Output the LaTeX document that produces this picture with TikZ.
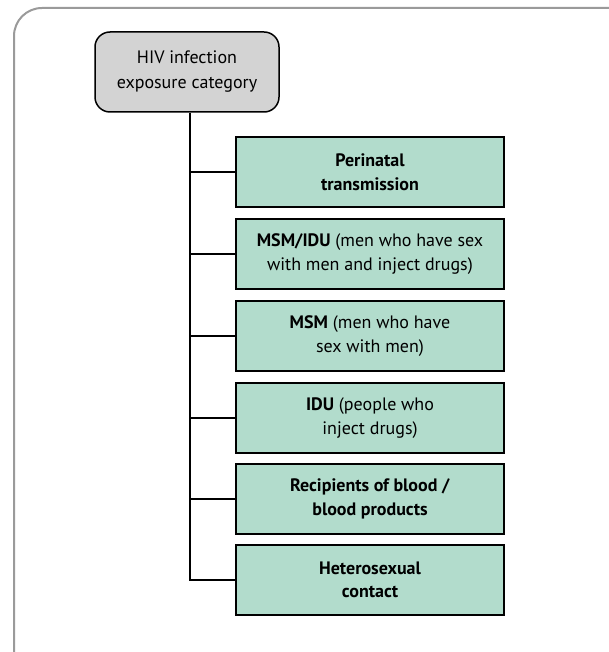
\documentclass[tikz,border=0pt]{standalone}
\usepackage{fontspec}
\setmainfont{PT Sans}
\begin{document}
\begin{tikzpicture}[x=1pt,y=-1pt,
  catbox/.style={draw=black, line width=2pt, fill=mint, minimum width=268pt, minimum height=70pt, align=center, inner sep=0pt, font=\fontsize{18}{23.5}\selectfont},
  rootbox/.style={draw=black, line width=1.5pt, fill=rootgray, rounded corners=15pt, minimum width=184pt, minimum height=80pt, align=center, inner sep=0pt, font=\fontsize{18}{25}\selectfont},
  conn/.style={draw=black, line width=1.8pt}]
\definecolor{mint}{HTML}{B2DCCC}
\definecolor{rootgray}{HTML}{D3D3D3}
\definecolor{framegray}{HTML}{9A9A9A}
\useasboundingbox (0,0) rectangle (608,652);
\draw[framegray, line width=2pt, rounded corners=28pt] (14,660) -- (14,8) -- (620,8);
\node[rootbox] (root) at (187,72) {HIV infection\\exposure category};
\node[catbox] (b1) at (370,172) {\textbf{Perinatal}\\\textbf{transmission}};
\node[catbox] (b2) at (370,254) {\textbf{MSM/IDU} (men who have sex\\with men and inject drugs)};
\node[catbox] (b3) at (370,336) {\textbf{MSM} (men who have\\sex with men)};
\node[catbox] (b4) at (370,418) {\textbf{IDU} (people who\\inject drugs)};
\node[catbox] (b5) at (370,499) {\textbf{Recipients of blood /}\\\textbf{blood products}};
\node[catbox] (b6) at (370,580) {\textbf{Heterosexual}\\\textbf{contact}};
\coordinate (trunk) at (190,0);
\draw[conn] (root.south -| trunk) |- (b6.west);
\foreach \b in {b1,b2,b3,b4,b5} \draw[conn] (\b.west -| trunk) -- (\b.west);
\end{tikzpicture}
\end{document}
